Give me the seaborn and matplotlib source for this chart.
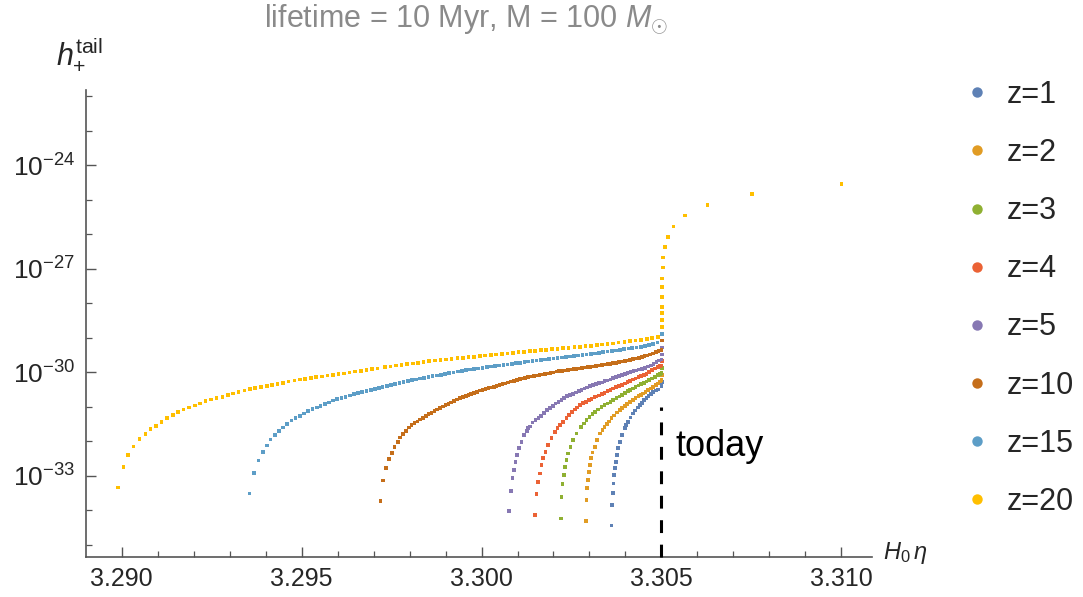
import numpy as np
import pandas as pd
import matplotlib
matplotlib.use("Agg")
import matplotlib.pyplot as plt
import seaborn as sns
from matplotlib.lines import Line2D
from matplotlib.ticker import FixedLocator, MultipleLocator, LogFormatterSciNotation, NullFormatter, FuncFormatter

# ---------------- data ----------------
labels = ["z=1", "z=2", "z=3", "z=4", "z=5", "z=10", "z=15", "z=20"]
colors = ["#5E81B5", "#E19C24", "#8FB032", "#EB6235", "#8778B3", "#C56E1A", "#5D9EC7", "#FFBF00"]

# z = 20
eta_z20 = [3.28989, 3.29005, 3.29018, 3.29033, 3.29050, 3.29066, 3.29080, 3.29095, 3.29111, 3.29126,
           3.29142, 3.29157, 3.29172, 3.29188, 3.29203, 3.29218, 3.29233, 3.29249, 3.29264, 3.29280,
           3.29295, 3.29310, 3.29325, 3.29341, 3.29356, 3.29371, 3.29387, 3.29403, 3.29418, 3.29433,
           3.29449, 3.29464, 3.29480, 3.29495, 3.29510, 3.29526, 3.29541, 3.29556, 3.29572, 3.29587,
           3.29603, 3.29618, 3.29633, 3.29649, 3.29665, 3.29680, 3.29695, 3.29711,
           3.29732, 3.29747, 3.29763, 3.29778, 3.29793, 3.29809, 3.29824, 3.29839, 3.29855, 3.29871,
           3.29886, 3.29902, 3.29917, 3.29933, 3.29948, 3.29964, 3.29979, 3.29995, 3.30010, 3.30026,
           3.30041, 3.30057, 3.30072, 3.30087, 3.30103, 3.30118, 3.30134, 3.30149, 3.30165, 3.30180,
           3.30196, 3.30211, 3.30227, 3.30242, 3.30258, 3.30273, 3.30289, 3.30304, 3.30320, 3.30335,
           3.30350, 3.30366, 3.30381, 3.30397, 3.30412, 3.30428, 3.30443, 3.30459, 3.30474, 3.30490]
logh_z20 = [-33.34, -32.74, -32.39, -32.15, -31.94, -31.79, -31.65, -31.55, -31.43, -31.32,
            -31.24, -31.15, -31.08, -31.02, -30.96, -30.90, -30.84, -30.79, -30.74, -30.71,
            -30.66, -30.61, -30.57, -30.53, -30.49, -30.46, -30.43, -30.40, -30.36, -30.33,
            -30.30, -30.27, -30.24, -30.21, -30.19, -30.17, -30.14, -30.12, -30.09, -30.07,
            -30.05, -30.03, -30.00, -29.98, -29.96, -29.93, -29.91, -29.89,
            -29.85, -29.83, -29.80, -29.78, -29.76, -29.74, -29.72, -29.70, -29.68, -29.66,
            -29.64, -29.63, -29.61, -29.59, -29.58, -29.56, -29.55, -29.53, -29.51, -29.50,
            -29.48, -29.47, -29.45, -29.44, -29.42, -29.41, -29.39, -29.38, -29.36, -29.35,
            -29.33, -29.32, -29.30, -29.29, -29.27, -29.26, -29.24, -29.23, -29.21, -29.19,
            -29.18, -29.16, -29.14, -29.12, -29.10, -29.08, -29.06, -29.04, -29.01, -28.98]

# z = 15
eta_z15 = [3.29355, 3.29368, 3.29380, 3.29392, 3.29403, 3.29414, 3.29426, 3.29437, 3.29449, 3.29460,
           3.29472, 3.29483, 3.29495, 3.29506, 3.29518, 3.29530, 3.29542, 3.29553, 3.29565, 3.29576,
           3.29588, 3.29599, 3.29611, 3.29622, 3.29634, 3.29645, 3.29657, 3.29668, 3.29680, 3.29692,
           3.29704, 3.29715,
           3.29725, 3.29737, 3.29748, 3.29760, 3.29772, 3.29783, 3.29795, 3.29806, 3.29818, 3.29829,
           3.29841, 3.29853, 3.29864, 3.29876, 3.29887, 3.29899, 3.29910, 3.29922, 3.29934, 3.29945,
           3.29957, 3.29968, 3.29980, 3.29991, 3.30003, 3.30015, 3.30026, 3.30038, 3.30049, 3.30061,
           3.30072, 3.30084, 3.30096, 3.30107, 3.30119, 3.30130, 3.30142, 3.30153, 3.30165, 3.30177,
           3.30188, 3.30200, 3.30211, 3.30223, 3.30234, 3.30246, 3.30257, 3.30269, 3.30281, 3.30292,
           3.30304, 3.30315, 3.30327, 3.30338, 3.30350, 3.30362, 3.30373, 3.30385, 3.30396, 3.30408,
           3.30419, 3.30431, 3.30443, 3.30454, 3.30466, 3.30477, 3.30489]
logh_z15 = [-33.51, -32.91, -32.55, -32.31, -32.12, -31.95, -31.82, -31.70, -31.60, -31.50,
            -31.40, -31.32, -31.26, -31.19, -31.12, -31.06, -31.02, -30.97, -30.92, -30.87,
            -30.82, -30.78, -30.75, -30.71, -30.67, -30.63, -30.60, -30.57, -30.54, -30.51,
            -30.48, -30.46,
            -30.43, -30.40, -30.37, -30.34, -30.31, -30.28, -30.26, -30.23, -30.21, -30.18,
            -30.16, -30.13, -30.11, -30.09, -30.07, -30.04, -30.02, -30.00, -29.98, -29.96,
            -29.94, -29.92, -29.90, -29.89, -29.87, -29.85, -29.83, -29.82, -29.80, -29.78,
            -29.77, -29.75, -29.73, -29.72, -29.70, -29.69, -29.67, -29.66, -29.64, -29.63,
            -29.61, -29.60, -29.58, -29.57, -29.55, -29.54, -29.52, -29.51, -29.49, -29.48,
            -29.46, -29.45, -29.43, -29.42, -29.40, -29.38, -29.37, -29.35, -29.33, -29.31,
            -29.30, -29.28, -29.26, -29.24, -29.21, -29.18, -29.14]

# z = 10
eta_z10 = [3.29719, 3.29727, 3.29735, 3.29743, 3.29751, 3.29758, 3.29767, 3.29774, 3.29782, 3.29790,
           3.29798, 3.29805,
           3.29814, 3.29822, 3.29829, 3.29837, 3.29845, 3.29853, 3.29861, 3.29869, 3.29877, 3.29885,
           3.29893, 3.29900, 3.29908, 3.29916, 3.29924, 3.29932, 3.29940, 3.29948, 3.29956, 3.29964,
           3.29971, 3.29979, 3.29987, 3.29995, 3.30003, 3.30011, 3.30019, 3.30027, 3.30035, 3.30042,
           3.30050, 3.30058, 3.30066, 3.30074, 3.30082, 3.30090, 3.30098, 3.30106, 3.30114, 3.30121,
           3.30129, 3.30137, 3.30145, 3.30153, 3.30161, 3.30169, 3.30177, 3.30185, 3.30192, 3.30200,
           3.30208, 3.30216, 3.30224, 3.30232, 3.30240, 3.30248, 3.30256, 3.30263, 3.30271, 3.30279,
           3.30287, 3.30295, 3.30303, 3.30311, 3.30319, 3.30327, 3.30334, 3.30342, 3.30350, 3.30358,
           3.30366, 3.30374, 3.30382, 3.30390, 3.30398, 3.30405, 3.30413, 3.30421, 3.30429, 3.30437,
           3.30445, 3.30453, 3.30461, 3.30469, 3.30476, 3.30484, 3.30492, 3.30500]
logh_z10 = [-33.73, -33.13, -32.77, -32.52, -32.33, -32.17, -32.02, -31.89, -31.79, -31.69,
            -31.60, -31.52,
            -31.47, -31.42, -31.37, -31.32, -31.26, -31.21, -31.17, -31.12, -31.08, -31.03,
            -30.99, -30.95, -30.91, -30.87, -30.83, -30.79, -30.75, -30.72, -30.68, -30.65,
            -30.62, -30.59, -30.56, -30.53, -30.51, -30.49, -30.46, -30.44, -30.42, -30.39,
            -30.37, -30.34, -30.32, -30.29, -30.27, -30.25, -30.23, -30.20, -30.18, -30.16,
            -30.14, -30.12, -30.11, -30.09, -30.07, -30.06, -30.04, -30.03, -30.01, -30.00,
            -29.98, -29.97, -29.96, -29.95, -29.93, -29.92, -29.91, -29.90, -29.89, -29.88,
            -29.86, -29.85, -29.84, -29.83, -29.81, -29.80, -29.79, -29.77, -29.76, -29.75,
            -29.73, -29.72, -29.70, -29.69, -29.67, -29.66, -29.64, -29.62, -29.60, -29.58,
            -29.56, -29.53, -29.51, -29.48, -29.45, -29.42, -29.39, -29.35]

# z = 5
eta_z5 = [3.30076, 3.30081, 3.30086, 3.30090, 3.30094, 3.30099, 3.30105, 3.30111, 3.30118, 3.30126,
          3.30130, 3.30134, 3.30142, 3.30150, 3.30158, 3.30166, 3.30174, 3.30182, 3.30190, 3.30198,
          3.30206, 3.30214, 3.30222, 3.30230, 3.30238, 3.30246, 3.30254, 3.30262, 3.30270, 3.30278,
          3.30286, 3.30294, 3.30302, 3.30310, 3.30318, 3.30326, 3.30334, 3.30342, 3.30350, 3.30358,
          3.30366, 3.30374, 3.30382, 3.30390, 3.30398, 3.30406, 3.30414, 3.30422, 3.30430, 3.30438,
          3.30446, 3.30454, 3.30462, 3.30470, 3.30478, 3.30486, 3.30494, 3.30500]
logh_z5 = [-34.02, -33.43, -33.07, -32.83, -32.59, -32.40, -32.20, -32.01, -31.82, -31.69,
           -31.62, -31.57, -31.45, -31.39, -31.33, -31.26, -31.18, -31.10, -31.04, -30.97,
           -30.90, -30.85, -30.80, -30.74, -30.69, -30.66, -30.62, -30.58, -30.55, -30.51,
           -30.47, -30.44, -30.40, -30.37, -30.33, -30.31, -30.29, -30.26, -30.24, -30.21,
           -30.17, -30.14, -30.11, -30.08, -30.05, -30.02, -29.99, -29.97, -29.95, -29.92,
           -29.90, -29.87, -29.83, -29.80, -29.76, -29.71, -29.66, -29.63]

# z = 4
eta_z4 = [3.30148, 3.30153, 3.30157, 3.30162, 3.30167, 3.30171, 3.30178, 3.30185, 3.30194, 3.30204,
          3.30211, 3.30218, 3.30226, 3.30236, 3.30244, 3.30252, 3.30259, 3.30266, 3.30274, 3.30282,
          3.30290, 3.30298, 3.30306, 3.30314, 3.30319, 3.30326, 3.30334, 3.30342, 3.30350, 3.30358,
          3.30366, 3.30374, 3.30382, 3.30390, 3.30398, 3.30406, 3.30412, 3.30420, 3.30428, 3.30436,
          3.30444, 3.30452, 3.30458, 3.30466, 3.30474, 3.30482, 3.30490, 3.30495, 3.30500]
logh_z4 = [-34.14, -33.53, -33.17, -32.93, -32.69, -32.49, -32.30, -32.11, -31.91, -31.72,
           -31.62, -31.53, -31.44, -31.32, -31.23, -31.15, -31.08, -31.02, -30.95, -30.89,
           -30.85, -30.81, -30.77, -30.72, -30.70, -30.67, -30.63, -30.59, -30.55, -30.51,
           -30.47, -30.43, -30.40, -30.36, -30.32, -30.28, -30.25, -30.21, -30.18, -30.14,
           -30.10, -30.07, -30.04, -29.99, -29.94, -29.89, -29.84, -29.81, -29.80]

# z = 3
eta_z3 = [3.30220, 3.30222, 3.30225, 3.30229, 3.30232, 3.30236, 3.30241, 3.30247, 3.30255, 3.30264,
          3.30276, 3.30284, 3.30292, 3.30300, 3.30308, 3.30315, 3.30324, 3.30333, 3.30342, 3.30350,
          3.30358, 3.30366, 3.30375, 3.30383, 3.30391, 3.30399, 3.30407, 3.30412, 3.30420, 3.30428,
          3.30436, 3.30444, 3.30452, 3.30458, 3.30466, 3.30474, 3.30482, 3.30490, 3.30496, 3.30500]
logh_z3 = [-34.23, -33.62, -33.24, -32.98, -32.74, -32.54, -32.35, -32.16, -31.96, -31.77,
           -31.58, -31.48, -31.38, -31.29, -31.21, -31.14, -31.08, -31.01, -30.95, -30.90,
           -30.85, -30.80, -30.75, -30.70, -30.65, -30.60, -30.54, -30.51, -30.47, -30.43,
           -30.38, -30.34, -30.30, -30.27, -30.23, -30.18, -30.13, -30.08, -30.04, -30.02]

# z = 2
eta_z2 = [3.30290, 3.30292, 3.30293, 3.30295, 3.30298, 3.30301, 3.30305, 3.30308, 3.30315, 3.30321,
          3.30330, 3.30336, 3.30342, 3.30348, 3.30354, 3.30361, 3.30369, 3.30377, 3.30384, 3.30391,
          3.30398, 3.30405, 3.30412, 3.30420, 3.30428, 3.30436, 3.30443, 3.30449, 3.30456, 3.30463,
          3.30470, 3.30477, 3.30484, 3.30490, 3.30495, 3.30500]
logh_z2 = [-34.31, -33.70, -33.36, -33.12, -32.88, -32.69, -32.49, -32.32, -32.16, -31.96,
           -31.77, -31.67, -31.58, -31.50, -31.42, -31.33, -31.25, -31.16, -31.09, -31.03,
           -30.97, -30.91, -30.85, -30.80, -30.75, -30.69, -30.65, -30.61, -30.56, -30.52,
           -30.47, -30.42, -30.37, -30.32, -30.27, -30.22]

# z = 1
eta_z1 = [3.30361, 3.30363, 3.30365, 3.30367, 3.30368, 3.30370, 3.30373, 3.30376, 3.30380, 3.30384,
          3.30391, 3.30398, 3.30402, 3.30407, 3.30414, 3.30421, 3.30427, 3.30434, 3.30440, 3.30446,
          3.30452, 3.30458, 3.30464, 3.30470, 3.30477, 3.30484, 3.30491, 3.30500]
logh_z1 = [-34.44, -33.85, -33.49, -33.22, -32.98, -32.78, -32.59, -32.40, -32.20, -32.01,
           -31.82, -31.62, -31.53, -31.43, -31.31, -31.19, -31.11, -31.02, -30.95, -30.88,
           -30.81, -30.75, -30.69, -30.63, -30.56, -30.53, -30.50, -30.40]

# common vertical rise at "today" and the late-time branch
stack_eta = [3.30501] * 15
stack_logh = [-30.28, -30.08, -29.88, -29.68, -29.48, -29.28, -29.08, -28.88, -28.68, -28.49,
              -28.29, -28.10, -27.81, -27.52, -27.28]
branch_eta = [3.30504, 3.30505, 3.30509, 3.30518, 3.30533, 3.30566, 3.30628, 3.30751, 3.31000]
branch_logh = [-26.96, -26.67, -26.36, -26.08, -25.77, -25.46, -25.15, -24.84, -24.55]

today_eta = 3.305
x_ticks = [3.290, 3.295, 3.300, 3.305, 3.310]
y_major_exp = [-33, -30, -27, -24]
y_minor_exp = [-35, -34, -32, -31, -29, -28, -26, -25, -23, -22]

series_eta = [eta_z1, eta_z2, eta_z3, eta_z4, eta_z5, eta_z10, eta_z15, eta_z20]
series_logh = [logh_z1, logh_z2, logh_z3, logh_z4, logh_z5, logh_z10, logh_z15, logh_z20]

# ---------------- build table ----------------
frames = []
for lab, e, lh in zip(labels, series_eta, series_logh):
    end = lh[-1]
    se = [x for x, y in zip(stack_eta, stack_logh) if y > end + 0.1]
    sl = [y for y in stack_logh if y > end + 0.1]
    xs = list(e) + se + branch_eta
    ys = list(lh) + sl + branch_logh
    frames.append(pd.DataFrame({"eta": xs, "h": np.power(10.0, ys), "z": lab}))
df = pd.concat(frames, ignore_index=True)

# ---------------- style ----------------
sns.set_style("white")
plt.rcParams["font.family"] = ["Liberation Sans", "DejaVu Sans"]
plt.rcParams["mathtext.fontset"] = "custom"
plt.rcParams["mathtext.rm"] = "Liberation Sans"
plt.rcParams["mathtext.it"] = "Liberation Sans:italic"
plt.rcParams["mathtext.bf"] = "Liberation Sans:bold"

fig = plt.figure(figsize=(10.83, 5.97), dpi=100)
ax = fig.add_axes([86 / 1083, 1 - 557 / 597, (872 - 86) / 1083, (557 - 90) / 597])

sns.scatterplot(data=df, x="eta", y="h", hue="z", hue_order=labels, palette=colors,
                marker="s", s=7, linewidth=0, legend=False, ax=ax, zorder=3)

ax.set_yscale("log")
ax.set_xlim(3.28901, 3.31085)
ax.set_ylim(10 ** -35.35, 10 ** -21.82)

# dashed "today" line
ax.plot([today_eta, today_eta], [10 ** -35.35, 10 ** -31.0], color="black", lw=2.2,
        dashes=(4.2, 3.8), zorder=4, clip_on=False)
ax.text(3.3054, 10 ** -32.15, "today", fontsize=26, va="center", ha="left", color="black")

# axes look
for s in ["top", "right"]:
    ax.spines[s].set_visible(False)
for s in ["left", "bottom"]:
    ax.spines[s].set_color("#555555")
    ax.spines[s].set_linewidth(1.2)

ax.xaxis.set_major_locator(FixedLocator(x_ticks))
ax.xaxis.set_minor_locator(MultipleLocator(0.001))
ax.xaxis.set_major_formatter(FuncFormatter(lambda v, p: f"{v:.3f}"))
ax.yaxis.set_major_locator(FixedLocator([10.0 ** e for e in y_major_exp]))
ax.yaxis.set_minor_locator(FixedLocator([10.0 ** e for e in y_minor_exp]))
ax.yaxis.set_major_formatter(LogFormatterSciNotation())
ax.yaxis.set_minor_formatter(NullFormatter())
ax.tick_params(axis="both", which="both", bottom=True, left=True, top=False, right=False)
ax.tick_params(axis="both", which="major", direction="in", length=7, width=1.0,
               color="#555555", labelsize=18, pad=7)
ax.tick_params(axis="both", which="minor", direction="in", length=4, width=0.9, color="#555555")
ax.tick_params(axis="y", which="major", pad=8, labelsize=19)
ax.set_xlabel("")
ax.set_ylabel("")

# axis labels & title
fig.text(905 / 1083, 1 - 553 / 597, r"$H_0\,\eta$", fontsize=17, ha="center", va="center")
fig.text(80 / 1083, 1 - 54 / 597, r"$h_{+}^{\mathrm{tail}}$", fontsize=22, ha="center", va="center")
fig.text(466 / 1083, 1 - 19 / 597, r"lifetime = 10 Myr, M = 100 $M_{\odot}$", fontsize=22,
         ha="center", va="center", color="#8a8a8a")

# legend
handles = [Line2D([], [], marker="o", linestyle="", markersize=7.5, color=c, markeredgewidth=0)
           for c in colors]
fig.legend(handles, labels, loc="upper left", bbox_to_anchor=(962 / 1083, 1 - 80 / 597),
           frameon=False, fontsize=22, labelspacing=0.92, handlelength=1.0, handletextpad=0.45,
           borderpad=0, borderaxespad=0)

fig.savefig("out.png", dpi=100)
